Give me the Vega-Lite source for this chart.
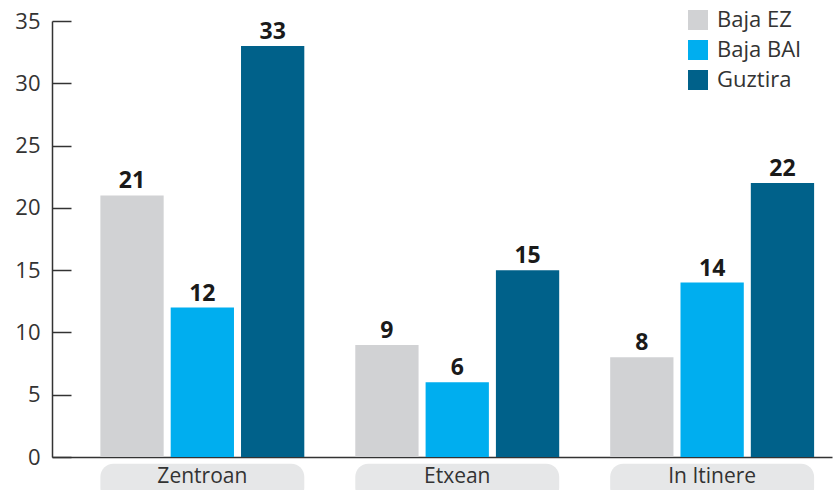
{
  "$schema": "https://vega.github.io/schema/vega-lite/v6.json",
  "autosize": {"type": "none"},
  "width": 780,
  "height": 436,
  "padding": {"left": 52, "top": 21, "right": 2, "bottom": 33},
  "background": "white",
  "config": {
    "font": "Open Sans",
    "view": {"stroke": null},
    "axis": {"labelFont": "Open Sans", "labelColor": "#333333", "domainColor": "#333333", "tickColor": "#333333"}
  },
  "datasets": {
    "vals": [
      {"category": "Zentroan", "series": "Baja EZ", "value": 21},
      {"category": "Zentroan", "series": "Baja BAI", "value": 12},
      {"category": "Zentroan", "series": "Guztira", "value": 33},
      {"category": "Etxean", "series": "Baja EZ", "value": 9},
      {"category": "Etxean", "series": "Baja BAI", "value": 6},
      {"category": "Etxean", "series": "Guztira", "value": 15},
      {"category": "In Itinere", "series": "Baja EZ", "value": 8},
      {"category": "In Itinere", "series": "Baja BAI", "value": 14},
      {"category": "In Itinere", "series": "Guztira", "value": 22}
    ],
    "cats": [
      {"category": "Zentroan"},
      {"category": "Etxean"},
      {"category": "In Itinere"}
    ]
  },
  "resolve": {"scale": {"x": "shared"}},
  "layer": [
    {
      "data": {"name": "cats"},
      "mark": {"type": "bar", "cornerRadius": 13, "color": "#e6e7e8"},
      "encoding": {
        "x": {"field": "category", "type": "nominal", "sort": ["Zentroan", "Etxean", "In Itinere"],
              "scale": {"paddingInner": 0.2, "paddingOuter": 0.13, "align": 0.73},
              "axis": {"title": null, "labels": false, "ticks": false, "domain": true, "domainWidth": 1.5}},
        "y": {"datum": -0.55, "type": "quantitative"},
        "y2": {"datum": -3.5}
      }
    },
    {
      "data": {"name": "cats"},
      "mark": {"type": "text", "fontSize": 21, "color": "#333333", "baseline": "middle", "font": "Open Sans", "dy": -1},
      "encoding": {
        "x": {"field": "category", "type": "nominal", "sort": ["Zentroan", "Etxean", "In Itinere"]},
        "y": {"datum": -1.7, "type": "quantitative"},
        "text": {"field": "category"}
      }
    },
    {
      "data": {"name": "vals"},
      "mark": {"type": "bar"},
      "encoding": {
        "x": {"field": "category", "type": "nominal", "sort": ["Zentroan", "Etxean", "In Itinere"]},
        "xOffset": {"field": "series", "type": "nominal", "sort": ["Baja EZ", "Baja BAI", "Guztira"],
                    "scale": {"paddingInner": 0.1, "paddingOuter": 0}},
        "y": {"field": "value", "type": "quantitative",
              "scale": {"domain": [0, 35], "nice": false},
              "axis": {"title": null, "values": [0, 5, 10, 15, 20, 25, 30, 35], "grid": false,
                       "tickSize": -19, "tickWidth": 1.5, "domainWidth": 1.5, "labelFontSize": 22,
                       "labelPadding": 31, "labelBaseline": "middle"}},
        "color": {"field": "series", "type": "nominal", "sort": ["Baja EZ", "Baja BAI", "Guztira"],
                  "scale": {"domain": ["Baja EZ", "Baja BAI", "Guztira"], "range": ["#d1d2d4", "#00aeef", "#00618a"]},
                  "legend": {"title": null, "orient": "none", "legendX": 635, "legendY": -12,
                             "symbolType": "square", "symbolSize": 400, "symbolStrokeWidth": 0,
                             "labelFontSize": 22, "labelFont": "Open Sans", "labelColor": "#333333",
                             "rowPadding": 8, "labelOffset": 8}}
      }
    },
    {
      "data": {"name": "vals"},
      "mark": {"type": "text", "fontSize": 23, "fontWeight": "bold", "color": "#1a1a1a", "baseline": "bottom", "dy": -2, "font": "Open Sans"},
      "encoding": {
        "x": {"field": "category", "type": "nominal", "sort": ["Zentroan", "Etxean", "In Itinere"]},
        "xOffset": {"field": "series", "type": "nominal", "sort": ["Baja EZ", "Baja BAI", "Guztira"]},
        "y": {"field": "value", "type": "quantitative"},
        "text": {"field": "value"}
      }
    }
  ]
}
